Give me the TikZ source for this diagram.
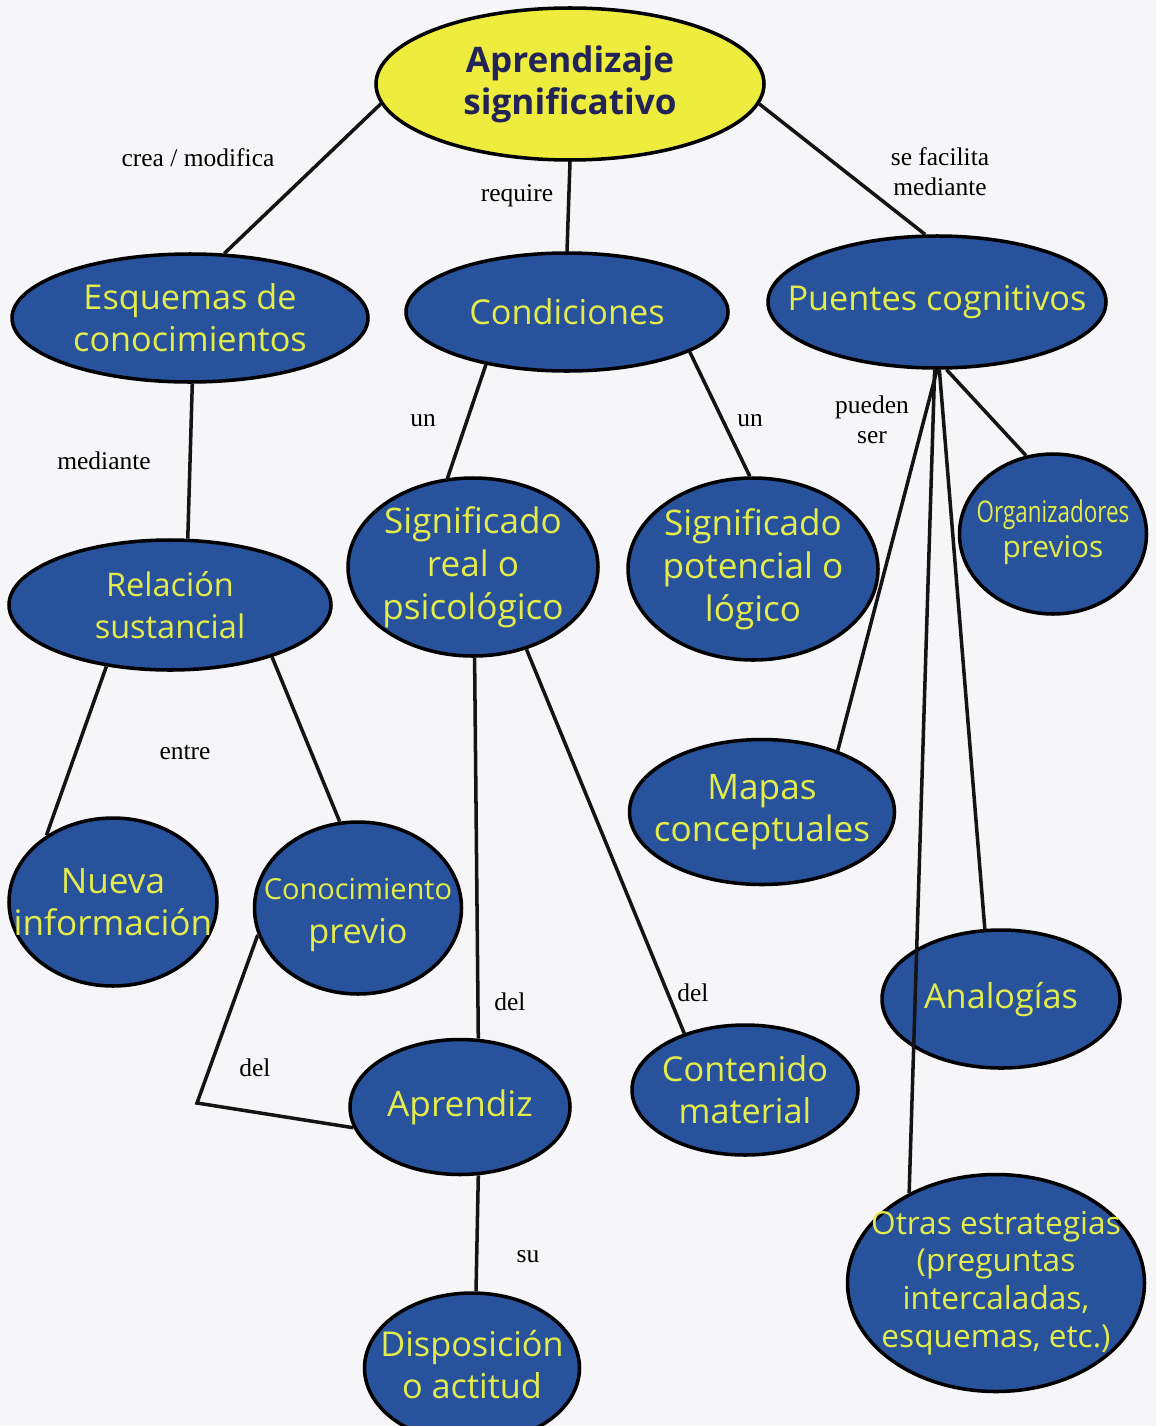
\documentclass[tikz,border=0pt]{standalone}
\usepackage{fontspec}
\setmainfont{Liberation Serif}
\newfontfamily\nf{Open Sans}
\newfontfamily\nfc[FakeStretch=0.75]{Open Sans}
\usetikzlibrary{shapes.geometric}
\definecolor{nodeblue}{RGB}{40,82,156}
\definecolor{nodeyellow}{RGB}{238,236,60}
\definecolor{textyellow}{RGB}{228,236,76}
\definecolor{navy}{RGB}{34,36,88}
\definecolor{paper}{RGB}{246,246,248}
\tikzset{
  bubble/.style 2 args={ellipse, draw=black, line width=2pt, fill=nodeblue,
    inner sep=0pt, minimum width=#1*0.02cm, minimum height=#2*0.02cm},
  topbubble/.style 2 args={bubble={#1}{#2}, fill=nodeyellow},
  ntext/.style={text=textyellow, align=center, inner sep=0pt,
    font=\nf\fontsize{19.5}{24}\selectfont},
  toptext/.style={ntext, text=navy, font=\nf\bfseries\fontsize{20}{24}\selectfont},
  link/.style={line width=2pt, draw=black!92},
  lab/.style={font=\fontsize{14.5}{17}\selectfont, align=center, inner sep=0pt},
}
\begin{document}
\begin{tikzpicture}[x=0.02cm, y=-0.02cm]
\useasboundingbox (0,0) rectangle (1156,1426);
\fill[paper] (0,0) rectangle (1156,1426);

% ellipses
\node[topbubble={388}{152}] (ap) at (570,84) {};
\node[bubble={356}{128}] (esq) at (190,318) {};
\node[bubble={322}{118}] (cond) at (567,312) {};
\node[bubble={338}{132}] (pc) at (937,302) {};
\node[bubble={250}{178}] (sr) at (473,567) {};
\node[bubble={250}{182}] (sp) at (753,569) {};
\node[bubble={187}{160}] (org) at (1053,534) {};
\node[bubble={322}{130}] (rel) at (170,605) {};
\node[bubble={265}{145}] (map) at (762,812) {};
\node[bubble={208}{168}] (nue) at (113,902) {};
\node[bubble={207}{172}] (con) at (358,908) {};
\node[bubble={238}{138}] (ana) at (1001,999) {};
\node[bubble={220}{135}] (apz) at (460,1107) {};
\node[bubble={226}{130}] (cm) at (745,1090) {};
\node[bubble={297}{217}] (ot) at (996,1283) {};
\node[bubble={215}{150}] (disp) at (472,1368) {};

% texts
\node[toptext] (apt) at (ap) {Aprendizaje\\significativo};
\node[ntext] (esqt) at (esq) {Esquemas de\\conocimientos};
\node[ntext] (condt) at (cond) {Condiciones};
\node[ntext] (pct) at (pc) {Puentes cognitivos};
\node[ntext, font=\nf\fontsize{20}{24.5}\selectfont] (srt) at (sr) {Significado\\real o\\psicológico};
\node[ntext, font=\nf\fontsize{20}{24.5}\selectfont] (spt) at (sp) {Significado\\potencial o\\lógico};
\node[ntext, font=\nf\fontsize{17}{20}\selectfont] (orgt) at ([yshift=1pt]org.center) {{\nfc Organizadores}\\previos};
\node[ntext, font=\nf\fontsize{18.5}{24}\selectfont] (relt) at (rel) {Relación\\sustancial};
\node[ntext, font=\nf\fontsize{20}{24}\selectfont] (mapt) at (map) {Mapas\\conceptuales};
\node[ntext, font=\nf\fontsize{20}{24}\selectfont] (nuet) at (nue) {Nueva\\información};
\node[ntext, font=\nf\fontsize{16.5}{25}\selectfont] (cont) at ([yshift=-4pt]con.center) {Conocimiento\\{\fontsize{19.5}{24}\selectfont previo}};
\node[ntext] (anat) at (ana) {Analogías};
\node[ntext, font=\nf\fontsize{20}{24}\selectfont] (apzt) at (apz) {Aprendiz};
\node[ntext] (cmt) at (cm) {Contenido\\material};
\node[ntext, font=\nf\fontsize{18}{21.5}\selectfont] (ott) at (ot) {Otras estrategias\\(preguntas\\intercaladas,\\esquemas, etc.)};
\node[ntext] (dispt) at ([yshift=2pt]disp.center) {Disposición\\o actitud};

% connectors
\draw[link] (ap.186) -- (esq.62);
\draw[link] (ap.south) -- (cond.north);
\draw[link] (ap.354) -- (pc.100);
\draw[link] (esq.272) -- (rel.75);
\draw[link] (cond.213) -- (sr.106);
\draw[link] (cond.342) -- (sp.92);
\draw[link] (pc.278) -- (org.109);
\draw[link] (pc.270) -- (map.39);
\draw[link] (pc.272) -- (ana.103);
\draw[link] (pc.268) -- (ot.134);
\draw[link] (rel.224) -- (nue.135);
\draw[link] (rel.333) -- (con.102);
\draw[link] (sr.271) -- (apz.75);
\draw[link] (sr.303) -- (cm.137);
\coordinate (bend) at (197,1103);
\draw[link] (con.195) -- (bend) -- (apz.191);
\draw[link] (apz.285) -- (disp.87);

% labels
\node[lab] (l1) at (198,158) {crea / modifica};
\node[lab] (l2) at (517,196) {require};
\node[lab] (l3) at (940,172) {se facilita\\mediante};
\node[lab] (l4) at (104,461) {mediante};
\node[lab] (l5) at (423,421) {un};
\node[lab] (l6) at (750,421) {un};
\node[lab] (l7) at (872,420) {pueden\\ser};
\node[lab] (l8) at (185,752) {entre};
\node[lab] (l9) at (255,1068) {del};
\node[lab] (l10) at (510,1002) {del};
\node[lab] (l11) at (693,993) {del};
\node[lab] (l12) at (528,1257) {su};
\end{tikzpicture}
\end{document}
